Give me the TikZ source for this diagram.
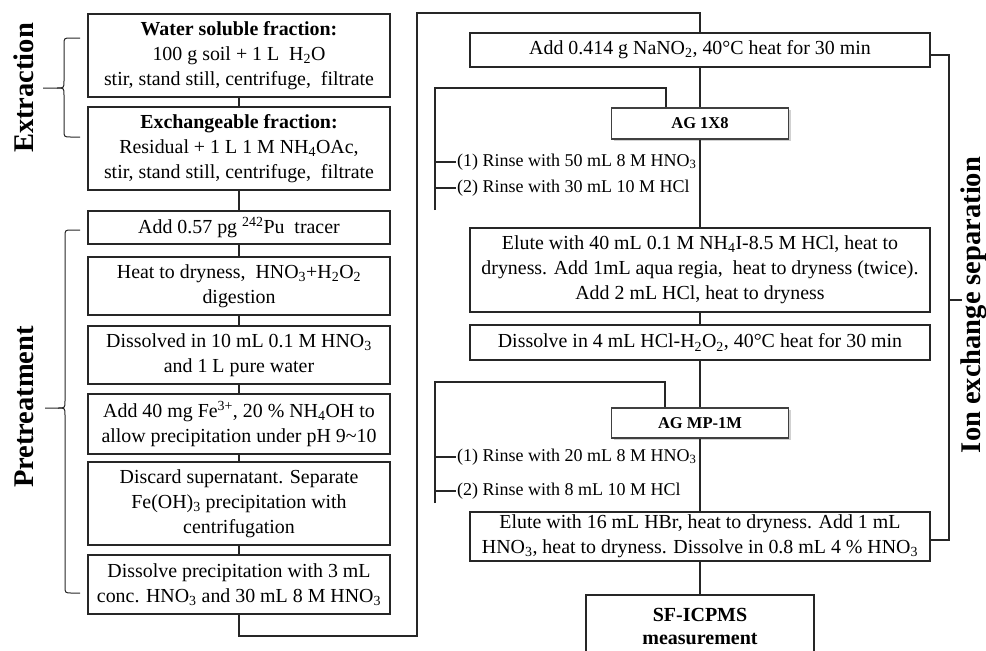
\documentclass[tikz,border=0pt]{standalone}
\usepackage{fontspec}
\setmainfont{Liberation Serif}
\usetikzlibrary{shadows}
\begin{document}
\begin{tikzpicture}[x=1pt,y=-1pt,
  line/.style={draw=black!85, line width=1.1pt},
  box/.style={line, fill=white, align=center, inner sep=0pt, font=\fontsize{19.9}{25}\selectfont},
  agbox/.style={draw=black!75, line width=1.1pt, fill=white, inner sep=0pt,
    drop shadow={shadow xshift=2pt, shadow yshift=-2pt, fill=black!30, opacity=0.6},
    font=\fontsize{16.5}{20}\selectfont\bfseries},
  rinse/.style={anchor=west, inner sep=1pt, font=\fontsize{18}{22}\selectfont},
  sidelab/.style={font=\fontsize{28.5}{30}\selectfont\bfseries, rotate=90, anchor=base, inner sep=0pt}]
\useasboundingbox (0,0) rectangle (986,651);
\clip (0,0) rectangle (986,651);

% ---------- left column ----------
\node[box, minimum width=302pt, minimum height=83pt] (b1) at (239,55.5)
  {\textbf{Water soluble fraction:}\\100 g soil + 1 L\ \ H\textsubscript{2}O\\stir, stand still, centrifuge,\ \ filtrate};
\node[box, minimum width=302pt, minimum height=83pt] (b2) at (239,148.5)
  {\textbf{Exchangeable fraction:}\\Residual + 1 L 1 M NH\textsubscript{4}OAc,\\stir, stand still, centrifuge,\ \ filtrate};
\node[box, minimum width=302pt, minimum height=33pt] (b3) at (239,227.5)
  {Add 0.57 pg \textsuperscript{242}Pu\ \ tracer};
\node[box, minimum width=302pt, minimum height=58pt] (b4) at (239,286)
  {Heat to dryness,\ \ HNO\textsubscript{3}+H\textsubscript{2}O\textsubscript{2}\\digestion};
\node[box, minimum width=302pt, minimum height=58pt] (b5) at (239,355)
  {Dissolved in 10 mL 0.1 M HNO\textsubscript{3}\\and 1 L pure water};
\node[box, minimum width=302pt, minimum height=60pt] (b6) at (239,424)
  {Add 40 mg Fe\textsuperscript{3+}, 20 \% NH\textsubscript{4}OH to\\allow precipitation under pH 9\textasciitilde10};
\node[box, minimum width=302pt, minimum height=83pt] (b7) at (239,503.5)
  {Discard supernatant. Separate\\Fe(OH)\textsubscript{3} precipitation with\\centrifugation};
\node[box, minimum width=302pt, minimum height=59pt] (b8) at (239,584.5)
  {Dissolve precipitation with 3 mL\\conc. HNO\textsubscript{3} and 30 mL 8 M HNO\textsubscript{3}};

\draw[line] (b1.south) -- (b2.north);
\draw[line] (b2.south) -- (b3.north);
\draw[line] (b3.south) -- (b4.north);
\draw[line] (b4.south) -- (b5.north);
\draw[line] (b5.south) -- (b6.north);
\draw[line] (b6.south) -- (b7.north);
\draw[line] (b7.south) -- (b8.north);

% side labels and braces
\node[sidelab] (lext) at (33,88) {Extraction};
\node[sidelab] (lpre) at (33,407) {Pretreatment};
\draw[line, line width=1pt] (80,38) -- (71,38) .. controls (64,38) .. (64,45) -- (64,81) .. controls (64,88) .. (57,88) -- (43,88);
\draw[line, line width=1pt] (57,88) .. controls (64,88) .. (64,95) -- (64,130) .. controls (64,137) .. (71,137) -- (80,137);
\draw[line, line width=1pt] (80,230) -- (72,230) .. controls (65,230) .. (65,237) -- (65,401) .. controls (65,408) .. (58,408) -- (45,408);
\draw[line, line width=1pt] (58,408) .. controls (65,408) .. (65,415) -- (65,586) .. controls (65,593) .. (72,593) -- (80,593);

% ---------- right column ----------
\node[box, minimum width=460pt, minimum height=34pt] (r1) at (700,50)
  {Add 0.414 g NaNO\textsubscript{2}, 40°C heat for 30 min};
\node[agbox, minimum width=177pt, minimum height=31pt] (ag1) at (700,123.5) {AG 1X8};
\node[box, minimum width=460pt, minimum height=84pt] (r2) at (700,270)
  {Elute with 40 mL 0.1 M NH\textsubscript{4}I-8.5 M HCl, heat to\\dryness. Add 1mL aqua regia,\ \ heat to dryness (twice).\\Add 2 mL HCl, heat to dryness};
\node[box, minimum width=460pt, minimum height=35pt] (r3) at (700,342.5)
  {Dissolve in 4 mL HCl-H\textsubscript{2}O\textsubscript{2}, 40°C heat for 30 min};
\node[agbox, minimum width=177pt, minimum height=30pt] (ag2) at (700,423) {AG MP-1M};
\node[box, minimum width=460pt, minimum height=49pt] (r4) at (700,536.5)
  {Elute with 16 mL HBr, heat to dryness. Add 1 mL\\HNO\textsubscript{3}, heat to dryness. Dissolve in 0.8 mL 4 \% HNO\textsubscript{3}};
\node[box, font=\fontsize{20}{23}\selectfont\bfseries, minimum width=228pt, minimum height=63pt] (r5) at (700,626.5)
  {SF-ICPMS\\measurement};

\draw[line] (r1.south) -- (ag1.north);
\draw[line] (ag1.south) -- (r2.north);
\draw[line] (r2.south) -- (r3.north);
\draw[line] (r3.south) -- (ag2.north);
\draw[line] (ag2.south) -- (r4.north);
\draw[line] (r4.south) -- (r5.north);

% link from left column to right column
\coordinate (c1) at (417,636);
\coordinate (c2) at (417,13);
\coordinate (c3) at (700,13);
\draw[line] (b8.south) |- (c1) -- (c2) -- (c3) -- (r1.north);

% rinse bracket 1
\coordinate (k1t) at (435,88);
\coordinate (k1b) at (435,210);
\draw[line] (k1b) -- (k1t) -| ([xshift=-34pt]ag1.north);
\node[rinse] (s1) at (456,162) {(1) Rinse with 50 mL 8 M HNO\textsubscript{3}};
\node[rinse] (s2) at (456,188) {(2) Rinse with 30 mL 10 M HCl};
\draw[line] (s1.west -| k1t) -- (s1.west);
\draw[line] (s2.west -| k1t) -- (s2.west);

% rinse bracket 2
\coordinate (k2t) at (435,382);
\coordinate (k2b) at (435,503);
\draw[line] (k2b) -- (k2t) -| ([xshift=-35pt]ag2.north);
\node[rinse] (s3) at (456,457) {(1) Rinse with 20 mL 8 M HNO\textsubscript{3}};
\node[rinse] (s4) at (456,491) {(2) Rinse with 8 mL 10 M HCl};
\draw[line] (s3.west -| k2t) -- (s3.west);
\draw[line] (s4.west -| k2t) -- (s4.west);

% ion exchange bracket
\coordinate (i1) at (949,55);
\coordinate (i2) at (949,540);
\coordinate (i3) at (962,300);
\draw[line] (r1.east |- i1) -- (i1) -- (i2) -- (r4.east |- i2);
\draw[line] (i1 |- i3) -- (i3);
\node[sidelab] (lion) at (980,305) {Ion exchange separation};
\end{tikzpicture}
\end{document}
